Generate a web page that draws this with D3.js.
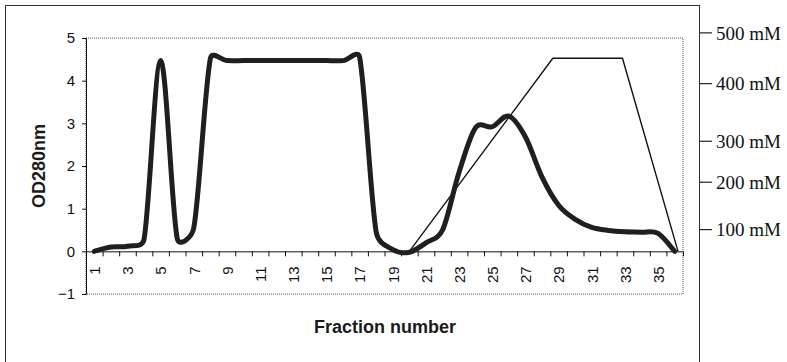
<!DOCTYPE html>
<html>
<head>
<meta charset="utf-8">
<script src="https://cdn.jsdelivr.net/npm/d3@7"></script>
<style>
  body { margin: 0; background: #fff; }
  svg { display: block; }
</style>
</head>
<body>
<svg id="chart" width="787" height="362"></svg>
<script>
// fraction numbers and OD280 readings
const fractions = d3.range(1, 37)
const od280 = [0.0, 0.10, 0.12, 0.28, 4.47, 0.30, 0.55, 4.52, 4.47, 4.47,
  4.47, 4.47, 4.47, 4.47, 4.47, 4.47, 4.55, 0.45, 0.04, -0.02,
  0.20, 0.50, 1.86, 2.90, 2.92, 3.17, 2.68, 1.74, 1.08, 0.75,
  0.56, 0.49, 0.46, 0.45, 0.42, 0.0]

// salt gradient (drawn by hand over the chart)
const gradFraction = [20, 28.65, 32.85, 36.2]
const gradMM = [0, 450, 450, 0]

// right-hand mM labels and the OD height they sit at
const mmTicks = [0, 100, 200, 300, 400, 500]
const mmAtOD = [0, 0.51, 1.62, 2.58, 3.93, 5.12]

const odTicks = [-1, 0, 1, 2, 3, 4, 5]
const fractionLabels = fractions.filter(d => d % 2 === 1)

// spreadsheet style smoothing: bezier arms of 1/6 of the neighbour chord,
// cut back to half the segment when the neighbours are far away
function SheetSmooth(context) { this._context = context }
SheetSmooth.prototype = {
  areaStart() {}, areaEnd() {},
  lineStart() { this._pts = [] },
  point(x, y) { this._pts.push([+x, +y]) },
  lineEnd() {
    const p = this._pts, c = this._context, n = p.length
    if (!n) return
    const dist = (a, b) => Math.hypot(b[0] - a[0], b[1] - a[1])
    c.moveTo(p[0][0], p[0][1])
    for (let i = 0; i < n - 1; i++) {
      const p0 = p[Math.max(i - 1, 0)], p1 = p[i], p2 = p[i + 1], p3 = p[Math.min(i + 2, n - 1)]
      const d12 = dist(p1, p2), d02 = dist(p0, p2), d13 = dist(p1, p3)
      let f1 = 1 / 6, f2 = 1 / 6
      if (d02 > 0 && d02 / 6 >= d12 / 2) f1 = d12 / (2 * d02)
      if (d13 > 0 && d13 / 6 >= d12 / 2) f2 = d12 / (2 * d13)
      c.bezierCurveTo(
        p1[0] + (p2[0] - p0[0]) * f1, p1[1] + (p2[1] - p0[1]) * f1,
        p2[0] - (p3[0] - p1[0]) * f2, p2[1] - (p3[1] - p1[1]) * f2,
        p2[0], p2[1])
    }
  }
}
const curveSheet = context => new SheetSmooth(context)

const svg = d3.select("#chart")
const plot = {left: 86, right: 683, top: 38, bottom: 294}

const x = d3.scaleLinear().domain([0.5, 36.5]).range([plot.left, plot.right])
const y = d3.scaleLinear().domain([-1, 5]).range([plot.bottom, plot.top])
const mm = d3.scaleLinear().domain(mmTicks).range(mmAtOD)

// outer frame, its right side doubles as the mM axis
svg.append("rect")
  .attr("x", 5.5).attr("y", 5.5)
  .attr("width", 694).attr("height", 420)
  .attr("fill", "none").attr("stroke", "#333").attr("stroke-width", 1)

// dotted plot area
svg.append("rect")
  .attr("x", plot.left).attr("y", plot.top)
  .attr("width", plot.right - plot.left).attr("height", plot.bottom - plot.top)
  .attr("fill", "none").attr("stroke", "#555").attr("stroke-width", 1)
  .attr("stroke-dasharray", "1,1")

// y axis
const yAxis = svg.append("g")
  .attr("transform", `translate(${plot.left},0)`)
  .call(d3.axisLeft(y).tickValues(odTicks).tickSize(4).tickPadding(7).tickFormat(d3.format("d")))
yAxis.select(".domain").attr("stroke", "#111")
yAxis.selectAll("line").attr("stroke", "#111")
yAxis.selectAll("text")
  .attr("font-family", "Liberation Sans, Arial, sans-serif")
  .attr("font-size", 15).attr("fill", "#111")

// x axis at OD 0, ticks between fractions
const xAxis = svg.append("g")
  .attr("transform", `translate(0,${y(0)})`)
  .call(d3.axisBottom(x).tickValues(d3.range(0.5, 37, 1)).tickSize(5).tickFormat("").tickSizeOuter(0))
xAxis.select(".domain").attr("stroke", "#111")
xAxis.selectAll("line").attr("stroke", "#111")

const xLabels = svg.append("g")
  .attr("transform", `translate(0,${y(0)})`)
  .call(d3.axisBottom(x).tickValues(fractionLabels).tickSize(0).tickFormat(d3.format("d")))
xLabels.select(".domain").remove()
xLabels.selectAll("text")
  .attr("transform", "rotate(-90)")
  .attr("x", -15).attr("y", 0).attr("dy", "0.35em")
  .attr("text-anchor", "end")
  .attr("font-family", "Liberation Sans, Arial, sans-serif")
  .attr("font-size", 15).attr("fill", "#111")

// right mM axis
const mmAxis = svg.append("g")
mmAxis.selectAll("line")
  .data(mmTicks.slice(1))
  .enter().append("line")
    .attr("x1", 699.5).attr("x2", 712)
    .attr("y1", d => y(mm(d))).attr("y2", d => y(mm(d)))
    .attr("stroke", "#222").attr("stroke-width", 1.2)
mmAxis.selectAll("text")
  .data(mmTicks.slice(1))
  .enter().append("text")
    .attr("x", 716).attr("y", d => y(mm(d)))
    .attr("dy", "0.35em")
    .attr("font-family", "Liberation Serif, Times New Roman, serif")
    .attr("font-size", 19).attr("fill", "#111")
    .text(d => d + " mM")

// axis titles
svg.append("text")
  .attr("transform", "translate(45,166) rotate(-90)")
  .attr("text-anchor", "middle")
  .attr("font-family", "Liberation Sans, Arial, sans-serif")
  .attr("font-weight", "bold").attr("font-size", 18).attr("fill", "#1a1a1a")
  .text("OD280nm")

svg.append("text")
  .attr("x", 385).attr("y", 333)
  .attr("text-anchor", "middle")
  .attr("font-family", "Liberation Sans, Arial, sans-serif")
  .attr("font-weight", "bold").attr("font-size", 18).attr("fill", "#1a1a1a")
  .text("Fraction number")

// gradient line
const gradLine = d3.line()
  .x((d, i) => x(gradFraction[i]))
  .y(d => y(mm(d)))
svg.append("path")
  .attr("d", gradLine(gradMM))
  .attr("fill", "none").attr("stroke", "#111").attr("stroke-width", 1.4)

// OD280 trace
const odLine = d3.line()
  .x((d, i) => x(fractions[i]))
  .y(d => y(d))
  .curve(curveSheet)
svg.append("path")
  .attr("d", odLine(od280))
  .attr("fill", "none").attr("stroke", "#1c211e").attr("stroke-width", 5)
  .attr("stroke-linejoin", "round").attr("stroke-linecap", "round")
</script>
</body>
</html>
